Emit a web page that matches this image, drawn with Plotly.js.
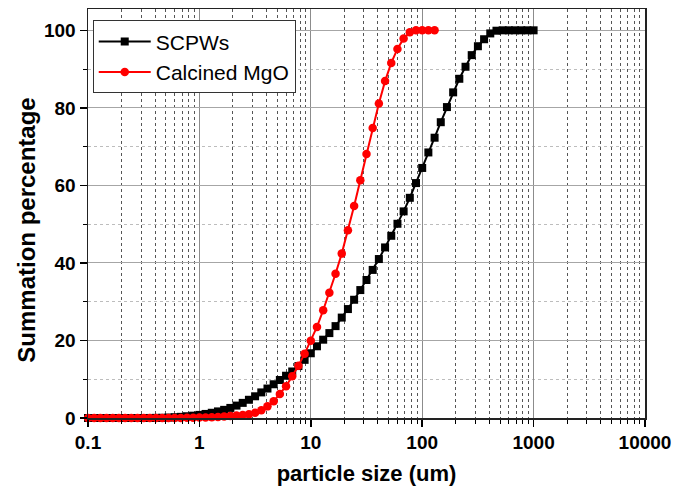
<!DOCTYPE html>
<html>
<head>
<meta charset="utf-8">
<script src="https://cdn.plot.ly/plotly-3.0.1.min.js"></script>
<style>html,body{margin:0;padding:0;background:#fff;}#chart{width:687px;height:490px;}</style>
</head>
<body>
<div id="chart"></div>
<script>
// particle size classes (um)
const sizesSCPW = [0.1,0.1136,0.1292,0.1468,0.1668,0.1896,0.2154,0.2448,0.2783,0.3162,0.3594,0.4084,0.4642,0.5275,0.5995,0.6813,0.7743,0.8799,
  1,1.136,1.292,1.468,1.668,1.896,2.154,2.448,2.783,3.162,3.594,4.084,4.642,5.275,5.995,6.813,7.743,8.799,
  10,11.36,12.92,14.68,16.68,18.96,21.54,24.48,27.83,31.62,35.94,40.84,46.42,52.75,59.95,68.13,77.43,87.99,
  100,113.6,129.2,146.8,166.8,189.6,215.4,244.8,278.3,316.2,359.4,408.4,464.2,527.5,599.5,681.3,774.3,879.9,1000];
const valuesSCPW = [0,0,0,0,0,0,0,0,0,0,0.01,0.03,0.06,0.12,0.2,0.3,0.45,0.6,
  0.8,1.05,1.35,1.7,2.1,2.6,3.2,3.9,4.7,5.6,6.6,7.6,8.7,9.8,10.9,12.0,13.4,15.0,
  16.7,18.5,20.2,21.9,23.7,25.9,28.1,30.5,33.0,35.6,38.2,41.0,44.0,47.0,50.1,53.3,56.8,60.6,
  64.5,68.5,72.3,76.3,80.2,84.0,87.5,90.6,93.6,95.9,97.7,99.2,99.9,100,100,100,100,100,100];
const sizesMgO = [0.1,0.1136,0.1292,0.1468,0.1668,0.1896,0.2154,0.2448,0.2783,0.3162,0.3594,0.4084,0.4642,0.5275,0.5995,0.6813,0.7743,0.8799,
  1,1.136,1.292,1.468,1.668,1.896,2.154,2.448,2.783,3.162,3.594,4.084,4.642,5.275,5.995,6.813,7.743,8.799,
  10,11.36,12.92,14.68,16.68,18.96,21.54,24.48,27.83,31.62,35.94,40.84,46.42,52.75,59.95,68.13,77.43,87.99,
  100,113.6,129.2];
const valuesMgO = [0,0,0,0,0,0,0,0,0,0,0,0,0,0,0,0.02,0.04,0.07,
  0.1,0.15,0.2,0.28,0.38,0.5,0.62,0.78,0.98,1.35,2.0,3.0,4.3,6.2,8.2,10.8,13.5,16.6,
  19.9,23.5,27.8,32.3,37.2,42.4,48.4,54.7,61.3,68.1,74.8,81.1,86.9,91.6,95.2,97.9,99.5,100,
  100,100,100];
const seriesNames = ['SCPWs','Calcined MgO'];
const xTickVals = [0.1,1,10,100,1000,10000];
const xTickText = ['0.1','1','10','100','1000','10000'];
const yTickVals = [0,20,40,60,80,100];
const xTitle = 'particle size (um)';
const yTitle = 'Summation percentage';

const FONT = '"Liberation Sans", Arial, sans-serif';

const traces = [
  {x: sizesSCPW, y: valuesSCPW, name: seriesNames[0], type: 'scatter', mode: 'lines+markers',
   line: {color: '#000000', width: 2}, marker: {symbol: 'square', size: 8, color: '#000000'}, cliponaxis: false},
  {x: sizesMgO, y: valuesMgO, name: seriesNames[1], type: 'scatter', mode: 'lines+markers',
   line: {color: '#ff0000', width: 2}, marker: {symbol: 'circle', size: 8.5, color: '#ff0000'}, cliponaxis: false}
];

const layout = {
  width: 687, height: 490,
  margin: {l: 88, r: 42, t: 9, b: 72},
  paper_bgcolor: '#ffffff', plot_bgcolor: '#ffffff',
  showlegend: true,
  legend: {x: 0.0085, y: 0.972, xanchor: 'left', yanchor: 'top',
    bgcolor: '#ffffff', bordercolor: '#333333', borderwidth: 1,
    font: {family: FONT, size: 21, color: '#000'}, tracegroupgap: 0, itemwidth: 52},
  xaxis: {
    type: 'log', range: [-1, 4], autorange: false,
    tickmode: 'array', tickvals: xTickVals, ticktext: xTickText,
    ticks: 'outside', ticklen: 7, tickwidth: 1.5, tickcolor: '#000',
    showline: true, linecolor: '#222', linewidth: 1.5, mirror: true,
    showgrid: true, gridcolor: '#8c8c8c', gridwidth: 1,
    zeroline: false,
    tickfont: {family: FONT, size: 19, color: '#000', weight: 'bold'},
    title: {text: '<b>' + xTitle + '</b>', font: {family: FONT, size: 22, color: '#000'}, standoff: 13},
    minor: {dtick: 'D1', ticks: 'outside', ticklen: 4, tickwidth: 1, tickcolor: '#000',
      showgrid: true, gridcolor: '#555555', griddash: '3px,3px', gridwidth: 1}
  },
  yaxis: {
    range: [0, 105.5], autorange: false,
    tickmode: 'array', tickvals: yTickVals,
    ticks: 'outside', ticklen: 7, tickwidth: 1.5, tickcolor: '#000',
    showline: true, linecolor: '#222', linewidth: 1.5, mirror: true,
    showgrid: true, gridcolor: '#a6a6a6', gridwidth: 1,
    zeroline: false,
    tickfont: {family: FONT, size: 19, color: '#000', weight: 'bold'},
    minor: {dtick: 10, ticks: 'outside', ticklen: 4, tickwidth: 1, tickcolor: '#000',
      showgrid: true, gridcolor: '#bdbdbd', griddash: 'dot', gridwidth: 1}
  },
  annotations: [
    {text: '<b>' + yTitle + '</b>', xref: 'paper', yref: 'paper', x: -0.1095, y: 0.458,
     xanchor: 'center', yanchor: 'middle', textangle: -90, showarrow: false,
     font: {family: FONT, size: 24, color: '#000'}}
  ]
};

Plotly.newPlot('chart', traces, layout, {displayModeBar: false, staticPlot: true});
</script>
</body>
</html>
